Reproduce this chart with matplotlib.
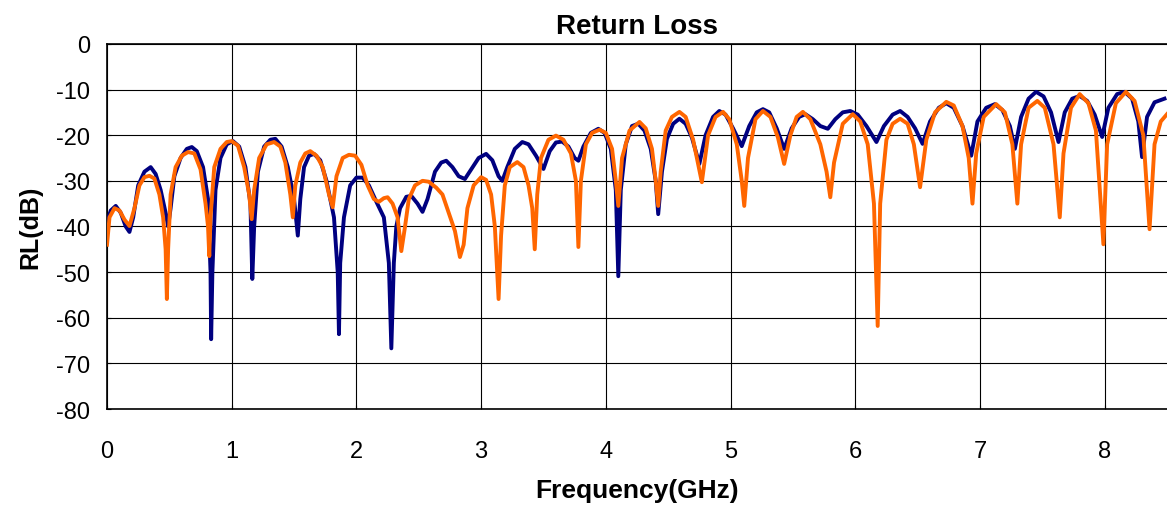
import matplotlib
matplotlib.use("Agg")
import matplotlib.pyplot as plt

# navy trace: (frequency GHz, return loss dB)
NAVY_FREQ = [
    0.00, 0.03, 0.07, 0.11, 0.15, 0.18, 0.21, 0.25, 0.30, 0.35, 0.39, 0.43, 0.47, 0.49,
    0.51, 0.54, 0.59, 0.64, 0.68, 0.72, 0.77, 0.81, 0.83, 0.835, 0.845, 0.87, 0.91, 0.96,
    1.01, 1.06, 1.11, 1.15, 1.165, 1.18, 1.21, 1.26, 1.31, 1.35, 1.40, 1.45, 1.50, 1.53,
    1.55, 1.58, 1.62, 1.66, 1.71, 1.76, 1.82, 1.85, 1.86, 1.87, 1.90, 1.95, 2.00, 2.05,
    2.10, 2.16, 2.22, 2.26, 2.28, 2.30, 2.32, 2.35, 2.40, 2.44, 2.49, 2.53, 2.57, 2.63,
    2.68, 2.72, 2.77, 2.82, 2.87, 2.92, 2.98, 3.04, 3.09, 3.14, 3.17, 3.21, 3.27, 3.33,
    3.38, 3.44, 3.50, 3.55, 3.60, 3.65, 3.70, 3.75, 3.78, 3.82, 3.88, 3.94, 3.99, 4.04,
    4.08, 4.10, 4.12, 4.16, 4.21, 4.26, 4.31, 4.36, 4.40, 4.42, 4.45, 4.49, 4.54, 4.59,
    4.64, 4.69, 4.75, 4.80, 4.86, 4.91, 4.96, 5.02, 5.09, 5.15, 5.21, 5.26, 5.31, 5.37,
    5.43, 5.49, 5.55, 5.60, 5.66, 5.72, 5.78, 5.84, 5.90, 5.96, 6.02, 6.09, 6.17, 6.23,
    6.30, 6.36, 6.42, 6.48, 6.54, 6.60, 6.67, 6.73, 6.79, 6.86, 6.93, 6.98, 7.05, 7.12,
    7.18, 7.24, 7.28, 7.33, 7.39, 7.45, 7.51, 7.57, 7.63, 7.68, 7.74, 7.80, 7.86, 7.92,
    7.98, 8.03, 8.10, 8.16, 8.22, 8.27, 8.30, 8.34, 8.40, 8.48,
]
NAVY_RL = [
    -39, -36.5, -35.5, -37, -40, -41.2, -38, -31, -28, -27, -28.5, -32, -37, -40,
    -36, -29, -25, -23, -22.6, -23.5, -27, -34, -50, -64.7, -50, -32, -25, -22,
    -21.3, -22.5, -27, -35, -51.5, -40, -28, -22.5, -21, -20.8, -22.5, -27, -34, -42,
    -34, -27, -24.5, -24.1, -25.5, -30, -38, -50, -63.6, -48, -38, -31, -29.3, -29.3,
    -31, -34.6, -38, -48, -66.7, -48, -40, -36, -33.5, -33.3, -35, -36.8, -34, -28,
    -26, -25.6, -27, -29, -29.6, -27.5, -25, -24.1, -25.5, -29, -30, -27, -23, -21.5,
    -22, -24.5, -27.4, -23.5, -21.6, -21.4, -22.5, -25, -25.6, -22.5, -19.5, -18.6, -19.5, -23,
    -32, -50.9, -32, -22, -18, -17.5, -19, -23, -30, -37.3, -28, -20.8, -17.5, -16.4,
    -17.5, -20.5, -26.3, -20, -16, -14.7, -15.5, -18.5, -22.4, -18, -15, -14.3, -15, -18.5,
    -23, -18.5, -16, -15.4, -16.5, -18, -18.6, -16.5, -15, -14.7, -15.5, -18, -21.5, -18,
    -15.5, -14.7, -16, -18.5, -21.9, -17, -14, -13, -14, -18, -24.5, -17, -14, -13.2,
    -14.5, -18, -23, -16, -12, -10.5, -11.5, -15, -21.5, -15, -12, -11.4, -12.5, -15.5,
    -20.4, -14, -11, -10.5, -12, -17, -24.8, -16, -12.8, -12,
]

# orange trace
ORANGE_FREQ = [
    0.00, 0.02, 0.06, 0.10, 0.14, 0.18, 0.22, 0.26, 0.30, 0.34, 0.38, 0.42, 0.45, 0.47,
    0.48, 0.49, 0.51, 0.55, 0.60, 0.65, 0.70, 0.75, 0.79, 0.81, 0.82, 0.83, 0.86, 0.91,
    0.96, 1.00, 1.05, 1.10, 1.14, 1.16, 1.18, 1.22, 1.28, 1.34, 1.39, 1.43, 1.47, 1.49,
    1.51, 1.55, 1.59, 1.63, 1.68, 1.73, 1.78, 1.81, 1.84, 1.89, 1.94, 1.99, 2.04, 2.09,
    2.14, 2.18, 2.22, 2.25, 2.29, 2.33, 2.36, 2.39, 2.42, 2.47, 2.53, 2.58, 2.64, 2.69,
    2.74, 2.79, 2.83, 2.86, 2.89, 2.94, 3.00, 3.04, 3.08, 3.11, 3.14, 3.16, 3.19, 3.23,
    3.29, 3.34, 3.38, 3.41, 3.43, 3.45, 3.48, 3.54, 3.60, 3.66, 3.72, 3.76, 3.78, 3.80,
    3.84, 3.89, 3.95, 4.00, 4.05, 4.08, 4.10, 4.13, 4.19, 4.27, 4.32, 4.37, 4.40, 4.42,
    4.44, 4.48, 4.53, 4.59, 4.64, 4.70, 4.77, 4.82, 4.88, 4.94, 4.99, 5.05, 5.09, 5.11,
    5.14, 5.20, 5.26, 5.32, 5.38, 5.43, 5.48, 5.53, 5.58, 5.64, 5.72, 5.77, 5.80, 5.83,
    5.90, 5.98, 6.04, 6.10, 6.15, 6.18, 6.20, 6.25, 6.30, 6.36, 6.42, 6.47, 6.52, 6.57,
    6.64, 6.73, 6.79, 6.86, 6.91, 6.94, 6.97, 7.03, 7.13, 7.20, 7.26, 7.30, 7.33, 7.39,
    7.46, 7.52, 7.59, 7.64, 7.67, 7.73, 7.80, 7.87, 7.93, 7.99, 8.02, 8.09, 8.17, 8.24,
    8.31, 8.36, 8.40, 8.45, 8.50,
]
ORANGE_RL = [
    -44, -38, -36, -36.5, -38.5, -39.9, -36, -31, -29.2, -28.9, -29.5, -33, -38, -45,
    -55.9, -45, -33, -27, -24.5, -23.7, -24, -27.5, -35, -40, -46.5, -38, -27, -23,
    -21.5, -21.3, -22.3, -27, -33, -38.4, -32, -25, -22, -21.5, -22.5, -26, -33, -38,
    -31, -26, -24, -23.5, -24.5, -27, -33, -35.8, -29, -25, -24.3, -24.5, -26.5, -31,
    -34, -34.6, -33.8, -33.6, -35, -38, -45.4, -40, -34, -31, -30, -30.2, -31.5, -33,
    -37, -41, -46.7, -44, -36, -31, -29.2, -29.8, -33, -40, -55.9, -42, -31, -27,
    -25.9, -27, -31, -36, -45, -33, -25, -21, -20.1, -21, -24, -30, -44.5, -30,
    -22, -19.5, -18.8, -19.5, -23, -30, -35.5, -25, -19, -17.1, -18.5, -23, -30, -35.5,
    -28, -19, -16, -14.9, -16, -21, -30.3, -20, -16, -14.9, -16.5, -22, -30, -35.5,
    -25, -16.5, -14.7, -16, -20.5, -26.3, -20, -16, -14.9, -16.5, -22, -28, -33.6, -26,
    -17.5, -15.4, -17, -22, -35, -61.8, -35, -21, -17.5, -16.4, -17.5, -22, -31.4, -21,
    -15, -12.7, -13.5, -18, -25, -35, -24, -16, -13.2, -15, -22, -35, -22, -14,
    -12.5, -14, -22, -38, -24, -14, -11, -13, -19, -43.9, -22, -13, -10.5, -12.5,
    -20, -40.6, -22, -17, -15.4,
]

X_TICKS = [0, 1, 2, 3, 4, 5, 6, 7, 8]
Y_TICKS = [0, -10, -20, -30, -40, -50, -60, -70, -80]

NAVY = "#000080"
ORANGE = "#ff6600"
FONT = ["Liberation Sans", "DejaVu Sans"]

plt.rcParams["font.family"] = FONT
plt.rcParams["axes.unicode_minus"] = False

fig = plt.figure(figsize=(11.67, 5.10), dpi=100)
ax = fig.add_axes([0.0917, 0.196, 0.9083, 0.716])

ax.plot(NAVY_FREQ, NAVY_RL, color=NAVY, linewidth=2.8, zorder=3)
ax.plot(ORANGE_FREQ, ORANGE_RL, color=ORANGE, linewidth=2.8, zorder=4)

ax.set_xlim(0, 8.5)
ax.set_ylim(-80, 0)
ax.set_xticks(X_TICKS)
ax.set_yticks(Y_TICKS)
ax.tick_params(axis="both", labelsize=17, length=3, direction="in")
ax.tick_params(axis="y", pad=12)
ax.tick_params(axis="x", pad=22)
ax.grid(True, color="black", linewidth=0.8)
ax.set_axisbelow(True)
for side in ("left", "bottom", "top"):
    ax.spines[side].set_linewidth(1.2)
ax.spines["right"].set_visible(False)

ax.set_title("Return Loss", fontsize=20, fontweight="bold", pad=8)
ax.set_xlabel("Frequency(GHz)", fontsize=19, fontweight="bold", labelpad=12)
ax.set_ylabel("RL(dB)", fontsize=18, fontweight="bold", labelpad=10)

fig.savefig("out.png", dpi=100)
plt.close(fig)
